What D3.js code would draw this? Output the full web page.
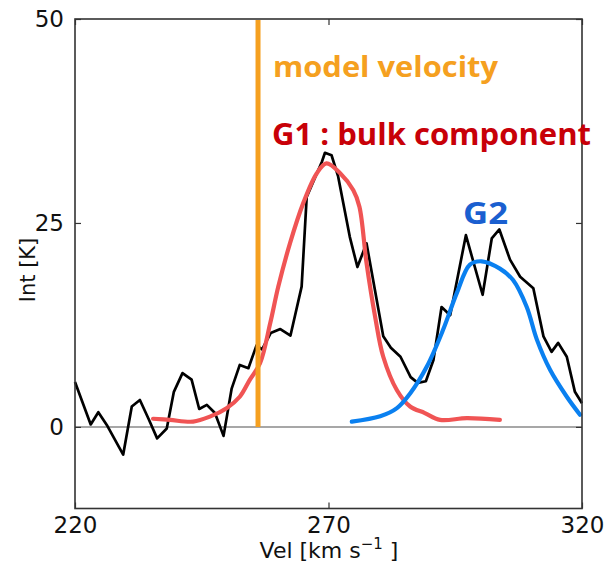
<!DOCTYPE html>
<html>
<head>
<meta charset="utf-8">
<script src="https://cdn.jsdelivr.net/npm/d3@7"></script>
<style>
  html, body { margin: 0; padding: 0; background: #fff; }
  svg { display: block; }
</style>
</head>
<body>
<svg id="chart" width="606" height="563"></svg>
<script>
// Observed spectrum (velocity km/s, intensity K)
const specVel = [220, 223.1, 224.6, 226.4, 229.5, 231.2, 232.8, 234.5, 236.2, 238.1, 239.5, 241.2, 243.0, 244.5, 246.0, 247.6, 249.3, 250.9, 252.5, 254.2, 255.8, 256.9, 258.6, 260.5, 262.5, 264.7, 265.7, 268.7, 269.3, 270.6, 271.9, 274.2, 275.7, 277.5, 280.8, 282.3, 284.2, 286.2, 287.6, 289.2, 290.7, 292.3, 294.0, 297.1, 300.4, 302.2, 303.7, 305.8, 307.8, 310.4, 312.4, 314.0, 315.3, 317.0, 318.6, 320.0];
const specInt = [5.5, 0.3, 1.8, 0.1, -3.4, 2.5, 3.3, 1.0, -1.4, -0.2, 4.3, 6.6, 5.8, 2.2, 2.7, 1.7, -1.1, 4.7, 7.6, 7.2, 10.0, 9.5, 11.5, 12.0, 11.2, 17.2, 28.2, 32.5, 33.6, 33.3, 30.7, 23.3, 19.6, 22.5, 11.1, 9.7, 8.6, 6.1, 5.4, 5.6, 8.2, 14.7, 13.7, 23.5, 16.2, 23.1, 24.2, 20.5, 18.4, 17.0, 11.1, 9.2, 10.3, 8.6, 4.3, 2.9];

// G1 : bulk component fit
const g1Vel = [235.4, 238.7, 243.3, 246.6, 249.9, 252.5, 254.5, 256.5, 258.5, 260.1, 262.4, 265.0, 267.7, 269.6, 272.3, 274.9, 276.1, 277.5, 279.2, 280.8, 283.5, 286.1, 289.0, 292.0, 297.3, 303.8];
const g1Int = [1.0, 0.86, 0.65, 1.26, 2.3, 3.7, 5.8, 7.8, 12.7, 17.2, 22.5, 27.4, 31.1, 32.3, 31.1, 29.0, 27.0, 20.1, 13.5, 8.6, 4.5, 2.5, 1.7, 0.86, 1.07, 0.86];

// G2 fit
const g2Vel = [274.6, 280.2, 283.5, 286.1, 289.4, 292.6, 295.3, 297.9, 300.2, 303.8, 306.4, 309.1, 311.1, 313.7, 317.0, 319.6];
const g2Int = [0.65, 1.3, 2.3, 4.1, 7.4, 11.9, 16.4, 19.9, 20.3, 19.4, 18.0, 14.7, 10.7, 7.0, 3.7, 1.5];

const modelVelocity = 256.1;

const xTicks = [220, 270, 320];
const yTicks = [0, 25, 50];
const xDomain = [220, 320];
const yDomain = [-10, 50];

const svg = d3.select("#chart");
const plotLeft = 75, plotRight = 582, plotTop = 19, plotBottom = 508.5;

const x = d3.scaleLinear().domain(xDomain).range([plotLeft, plotRight]);
const y = d3.scaleLinear().domain(yDomain).range([plotBottom, plotTop]);

svg.append("rect").attr("width", 606).attr("height", 563).attr("fill", "#fff");

// zero baseline
svg.append("line")
  .attr("x1", x(xDomain[0])).attr("x2", x(xDomain[1]))
  .attr("y1", y(0)).attr("y2", y(0))
  .attr("stroke", "#8a8a8a").attr("stroke-width", 1.5);

const zip = (a, b) => a.map((v, i) => [v, b[i]]);

const plot = svg.append("g");

// spectrum
plot.append("path")
  .datum(zip(specVel, specInt))
  .attr("fill", "none")
  .attr("stroke", "#000")
  .attr("stroke-width", 2.7)
  .attr("stroke-linejoin", "round")
  .attr("d", d3.line().x(d => x(d[0])).y(d => y(d[1])));

// G1 fit
plot.append("path")
  .datum(zip(g1Vel, g1Int))
  .attr("fill", "none")
  .attr("stroke", "#f05454")
  .attr("stroke-width", 4.2)
  .attr("stroke-linecap", "round")
  .attr("d", d3.line().curve(d3.curveCatmullRom).x(d => x(d[0])).y(d => y(d[1])));

// G2 fit
plot.append("path")
  .datum(zip(g2Vel, g2Int))
  .attr("fill", "none")
  .attr("stroke", "#0a80f0")
  .attr("stroke-width", 4.2)
  .attr("stroke-linecap", "round")
  .attr("d", d3.line().curve(d3.curveCatmullRom).x(d => x(d[0])).y(d => y(d[1])));

// model velocity marker
plot.append("line")
  .attr("x1", x(modelVelocity)).attr("x2", x(modelVelocity))
  .attr("y1", y(0)).attr("y2", y(50) + 1)
  .attr("stroke", "#f5a020").attr("stroke-width", 5);

// axes with inward ticks
const axisStyle = g => {
  g.select(".domain").remove();
  g.selectAll(".tick line").attr("stroke", "#333").attr("stroke-width", 1.2);
  g.selectAll(".tick text").attr("fill", "#111")
    .style("font-family", "DejaVu Sans, sans-serif").style("font-size", "23px");
};

svg.append("g").attr("transform", `translate(0,${plotBottom})`)
  .call(d3.axisBottom(x).tickValues(xTicks).tickSizeInner(-6).tickPadding(8))
  .call(axisStyle);
svg.append("g").attr("transform", `translate(0,${plotTop})`)
  .call(d3.axisTop(x).tickValues(xTicks).tickSizeInner(-6).tickFormat(""))
  .call(axisStyle);
svg.append("g").attr("transform", `translate(${plotLeft},0)`)
  .call(d3.axisLeft(y).tickValues(yTicks).tickSizeInner(-6).tickPadding(11))
  .call(axisStyle);
svg.append("g").attr("transform", `translate(${plotRight},0)`)
  .call(d3.axisRight(y).tickValues(yTicks).tickSizeInner(-6).tickFormat(""))
  .call(axisStyle);

// frame
svg.append("rect")
  .attr("x", plotLeft).attr("y", plotTop)
  .attr("width", plotRight - plotLeft).attr("height", plotBottom - plotTop)
  .attr("fill", "none").attr("stroke", "#333").attr("stroke-width", 1.6);

// axis titles
svg.append("text")
  .attr("transform", `translate(35,270) rotate(-90)`)
  .attr("text-anchor", "middle")
  .style("font-family", "DejaVu Sans, sans-serif").style("font-size", "21px")
  .attr("fill", "#111")
  .text("Int [K]");

const xl = svg.append("text")
  .attr("x", 329).attr("y", 558)
  .attr("text-anchor", "middle")
  .style("font-family", "DejaVu Sans, sans-serif").style("font-size", "22px")
  .attr("fill", "#111");
xl.append("tspan").text("Vel [km s");
xl.append("tspan").attr("dy", -9).style("font-size", "15px").text("\u22121");
xl.append("tspan").attr("dy", 9).text(" ]");

// annotations
const ann = (txt, xp, yp, color, size, len) => svg.append("text")
  .attr("x", xp).attr("y", yp)
  .attr("fill", color)
  .attr("textLength", len).attr("lengthAdjust", "spacingAndGlyphs")
  .style("font-family", "Open Sans, sans-serif").style("font-weight", "700")
  .style("font-size", size + "px")
  .text(txt);

ann("model velocity", 273, 77, "#f5a020", 28, 225);
ann("G1 : bulk component", 272, 145, "#c80008", 31, 319);
ann("G2", 463, 224, "#1a5fd0", 30, 45);
</script>
</body>
</html>
